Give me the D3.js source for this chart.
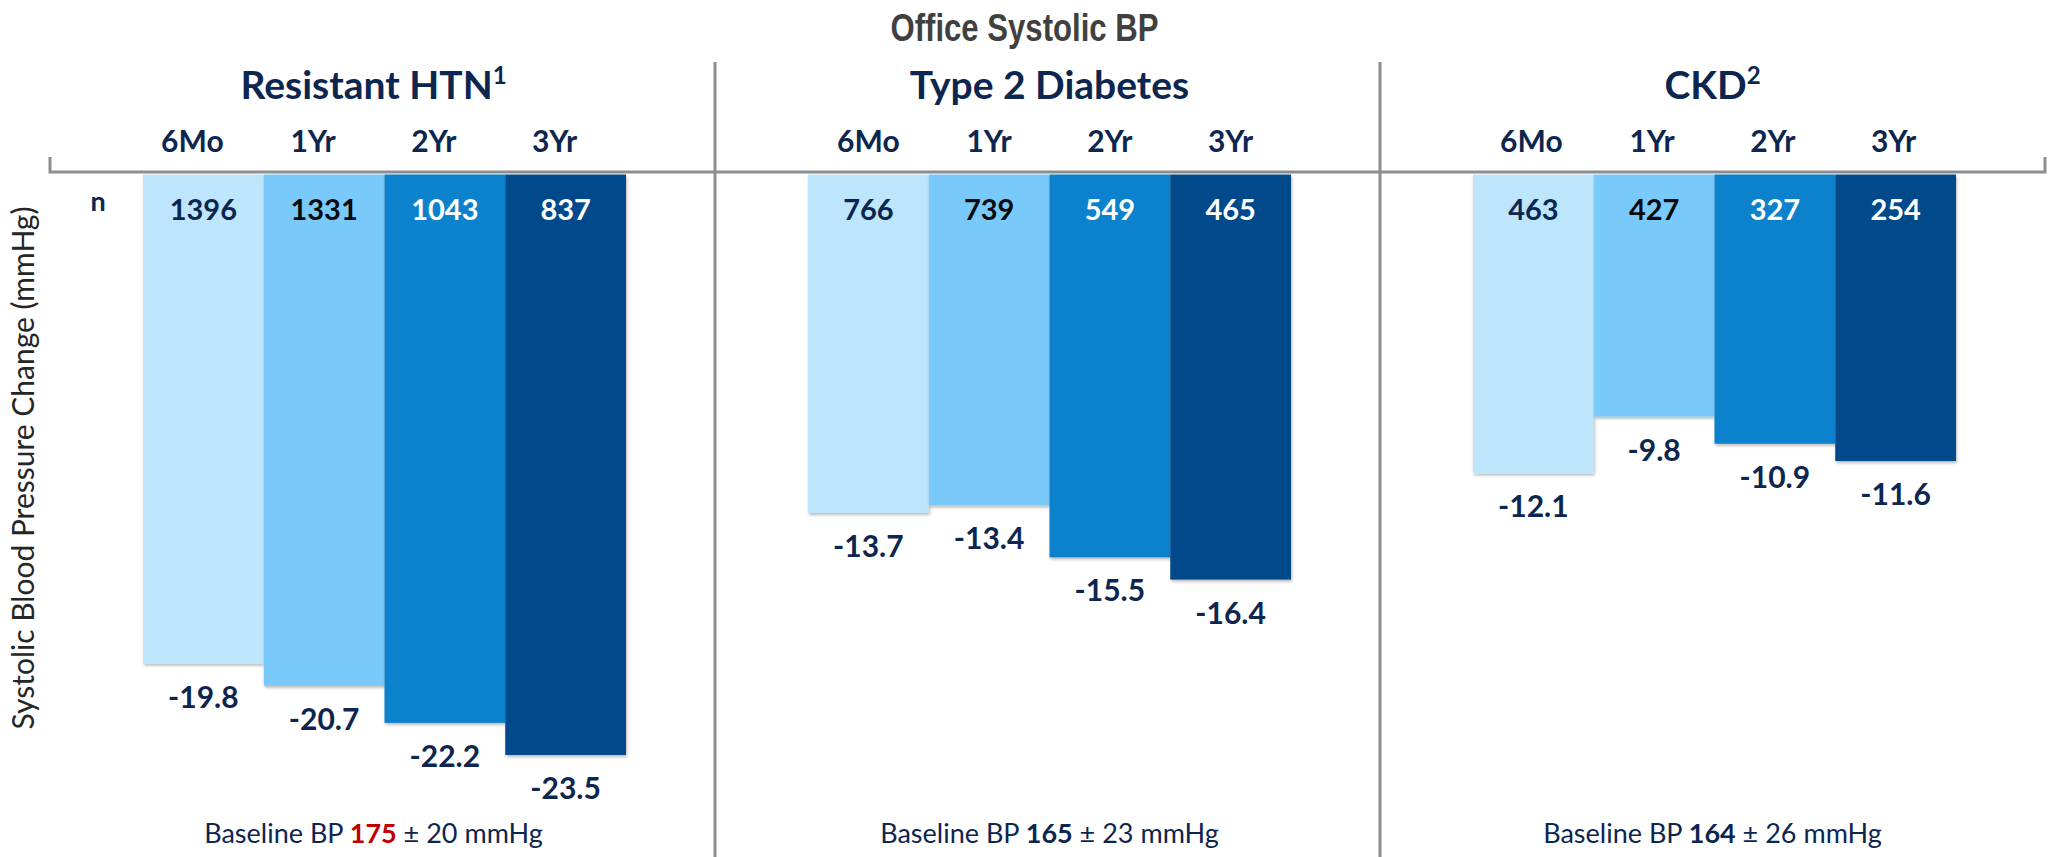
<!DOCTYPE html>
<html>
<head>
<meta charset="utf-8">
<script src="https://cdn.jsdelivr.net/npm/d3@7"></script>
<style>
  html, body { margin: 0; padding: 0; background: #ffffff; }
  svg { display: block; }
</style>
</head>
<body>
<svg id="chart" width="2049" height="857"></svg>
<script>
// ---- data ----
const panels = ["Resistant HTN", "Type 2 Diabetes", "CKD"];
const panelSup = ["1", "", "2"];
const periods = ["6Mo", "1Yr", "2Yr", "3Yr"];

const changeResistantHTN = [-19.8, -20.7, -22.2, -23.5];
const changeType2Diabetes = [-13.7, -13.4, -15.5, -16.4];
const changeCKD = [-12.1, -9.8, -10.9, -11.6];

const nResistantHTN = [1396, 1331, 1043, 837];
const nType2Diabetes = [766, 739, 549, 465];
const nCKD = [463, 427, 327, 254];

const baselineMean = [175, 165, 164];
const baselineSD = [20, 23, 26];

const changes = [changeResistantHTN, changeType2Diabetes, changeCKD];
const counts = [nResistantHTN, nType2Diabetes, nCKD];

// ---- style ----
const barColors = ["#bde5fb", "#79c9fb", "#0982cc", "#034a8a"];
const countColors = ["#0d2650", "#0a0a0a", "#ffffff", "#ffffff"];
const navy = "#0d2650";
const axisGray = "#8e8e8e";
const textFont = "Lato, 'Open Sans', sans-serif";
const headShift = [-11, 0, -2];   // horizontal nudge of each panel's header text

const svg = d3.select("#chart");

const defs = svg.append("defs");
const shadow = defs.append("filter").attr("id", "barShadow")
  .attr("x", "-5%").attr("y", "-5%").attr("width", "115%").attr("height", "115%");
shadow.append("feDropShadow").attr("dx", 1).attr("dy", 2)
  .attr("stdDeviation", 1.6).attr("flood-color", "#000").attr("flood-opacity", 0.28);

// ---- scales ----
const xPanel = d3.scaleBand().domain(panels).range([50, 2045]);
const xPeriod = d3.scaleBand().domain(periods).range([93, 576]).padding(0);
const y = d3.scaleLinear().domain([0, -25]).range([174.5, 792]);
const groupMid = (i) => xPanel(panels[i]) + (xPeriod.range()[0] + xPeriod.range()[1]) / 2 + headShift[i];
const fmtChange = (v) => d3.format(".1f")(v).replace("\u2212", "-");

// ---- title ----
svg.append("text")
  .attr("x", 1024.5).attr("y", 41)
  .attr("text-anchor", "middle")
  .attr("textLength", 268).attr("lengthAdjust", "spacingAndGlyphs")
  .style("font-family", "'Liberation Sans', Arial, sans-serif")
  .style("font-weight", "bold").style("font-size", "38px")
  .style("fill", "#404040")
  .text("Office Systolic BP");

// ---- y axis label ----
svg.append("text")
  .attr("transform", "translate(34,468) rotate(-90)")
  .attr("text-anchor", "middle")
  .style("font-family", textFont).style("font-size", "30px")
  .style("fill", "#262626")
  .text("Systolic Blood Pressure Change (mmHg)");

// ---- panels ----
panels.forEach((p, i) => {
  const g = svg.append("g").attr("transform", `translate(${xPanel(p)},0)`);
  const data = periods.map((per, k) => ({ per, k, v: changes[i][k], n: counts[i][k] }));

  g.selectAll("rect.bar").data(data).join("rect")
    .attr("class", "bar")
    .attr("x", d => xPeriod(d.per))
    .attr("width", xPeriod.bandwidth())
    .attr("y", y(0))
    .attr("height", d => y(d.v) - y(0))
    .attr("fill", d => barColors[d.k])
    .attr("filter", "url(#barShadow)");

  // counts inside the bars
  g.selectAll("text.n").data(data).join("text")
    .attr("class", "n")
    .attr("x", d => xPeriod(d.per) + xPeriod.bandwidth() / 2)
    .attr("y", 220)
    .attr("text-anchor", "middle")
    .style("font-family", textFont).style("font-weight", "bold").style("font-size", "29px")
    .style("fill", d => countColors[d.k])
    .text(d => d.n);

  // change values under the bars
  g.selectAll("text.val").data(data).join("text")
    .attr("class", "val")
    .attr("x", d => xPeriod(d.per) + xPeriod.bandwidth() / 2)
    .attr("y", d => y(d.v) + 44)
    .attr("text-anchor", "middle")
    .style("font-family", textFont).style("font-weight", "bold").style("font-size", "30px")
    .style("fill", navy)
    .text(d => fmtChange(d.v));

  // period labels above the axis
  g.selectAll("text.per").data(data).join("text")
    .attr("class", "per")
    .attr("x", d => xPeriod(d.per) + xPeriod.bandwidth() / 2 + headShift[i])
    .attr("y", 152)
    .attr("text-anchor", "middle")
    .style("font-family", textFont).style("font-weight", "bold").style("font-size", "30px")
    .style("fill", navy)
    .text(d => d.per);

  // panel header
  const h = svg.append("text")
    .attr("x", groupMid(i)).attr("y", 99)
    .attr("text-anchor", "middle")
    .style("font-family", textFont).style("font-weight", "bold").style("font-size", "39px")
    .style("fill", navy);
  h.append("tspan").text(p);
  if (panelSup[i]) {
    h.append("tspan").attr("dy", -15).style("font-size", "24px").text(panelSup[i]);
  }

  // baseline note
  const b = svg.append("text")
    .attr("x", groupMid(i)).attr("y", 843)
    .attr("text-anchor", "middle")
    .style("font-family", textFont).style("font-size", "27px")
    .style("fill", navy);
  b.append("tspan").text("Baseline BP ");
  b.append("tspan").style("font-weight", "bold")
    .style("fill", i === 0 ? "#c00000" : navy)
    .text(baselineMean[i]);
  b.append("tspan").text(" ± " + baselineSD[i] + " mmHg");
});

// "n" row label
svg.append("text")
  .attr("x", 98).attr("y", 211)
  .attr("text-anchor", "middle")
  .style("font-family", textFont).style("font-weight", "bold").style("font-size", "27px")
  .style("fill", navy)
  .text("n");

// ---- axis frame ----
const x0 = xPanel.range()[0], x1 = xPanel.range()[1];
svg.append("path")
  .attr("d", `M${x0},157 V172 H${x1} V157`)
  .attr("fill", "none").attr("stroke", axisGray).attr("stroke-width", 3);

// panel separators
panels.slice(1).forEach(p => {
  svg.append("line")
    .attr("x1", xPanel(p)).attr("x2", xPanel(p))
    .attr("y1", 62).attr("y2", 857)
    .attr("stroke", axisGray).attr("stroke-width", 3);
});
</script>
</body>
</html>
